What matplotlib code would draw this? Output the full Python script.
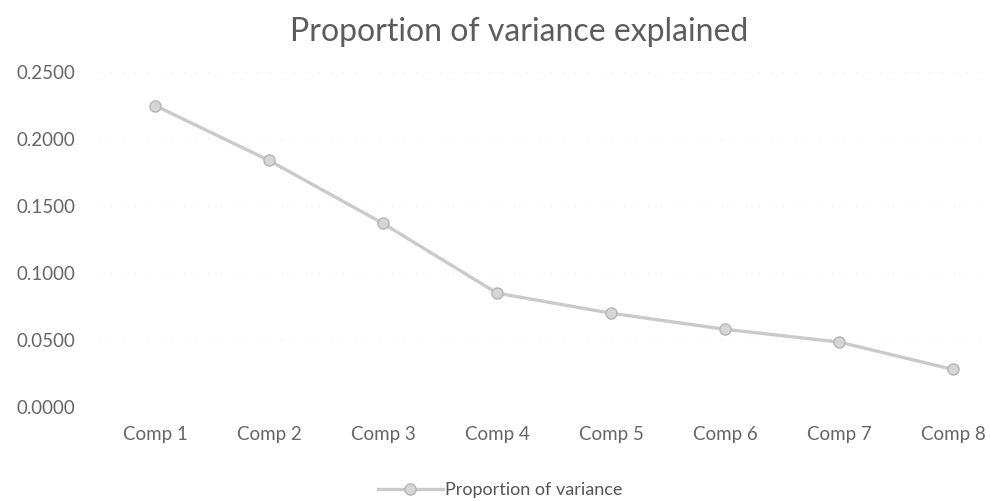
import matplotlib
matplotlib.use("Agg")
import matplotlib.pyplot as plt
from matplotlib.lines import Line2D

categories = ["Comp 1", "Comp 2", "Comp 3", "Comp 4", "Comp 5", "Comp 6", "Comp 7", "Comp 8"]
values = [0.225, 0.184, 0.137, 0.085, 0.070, 0.058, 0.0485, 0.028]
yticks = [0.0, 0.05, 0.10, 0.15, 0.20, 0.25]
title = "Proportion of variance explained"
series_name = "Proportion of variance"

plt.rcParams['font.family'] = ['Lato', 'DejaVu Sans']
W, H = 990, 501
fig = plt.figure(figsize=(W / 100, H / 100), dpi=100)
ax = fig.add_axes([98 / W, 1 - 407 / H, (990 - 98) / W, (407 - 72) / H])

xs = list(range(1, len(categories) + 1))
line_color = "#cacaca"
ax.plot(xs, values, color=line_color, lw=2.4, marker="o", ms=8,
        mfc="#d6d6d6", mec="#b5b5b5", mew=1.0, zorder=3)

ax.set_xlim(0.5, 8.325)
ax.set_ylim(0, 0.25)
ax.set_yticks(yticks)
ax.set_yticklabels([f"{v:.4f}" for v in yticks])
ax.set_xticks(xs)
ax.set_xticklabels(categories)
ax.grid(axis="y", color="#eeeeee", lw=0.8, ls=(0, (1, 10)))
ax.set_axisbelow(True)
for s in ax.spines.values():
    s.set_visible(False)
ax.tick_params(axis="both", length=0, colors="#666666", labelsize=13.5)
ax.tick_params(axis="y", pad=16.5)
ax.tick_params(axis="x", pad=14)

fig.text(519 / W, 1 - 32 / H, title, ha="center", va="center",
         fontsize=23, color="#5c5c5c", fontweight="normal")

handle = Line2D([0], [0], color=line_color, lw=2.4, marker="o", ms=8,
                mfc="#d6d6d6", mec="#b5b5b5")
fig.legend([handle], [series_name], loc="center", bbox_to_anchor=(500 / W, 1 - 490 / H),
           frameon=False, fontsize=13, labelcolor="#555555", handlelength=3.6,
           handletextpad=0.1)

fig.savefig("out.png", dpi=100, facecolor="white")
